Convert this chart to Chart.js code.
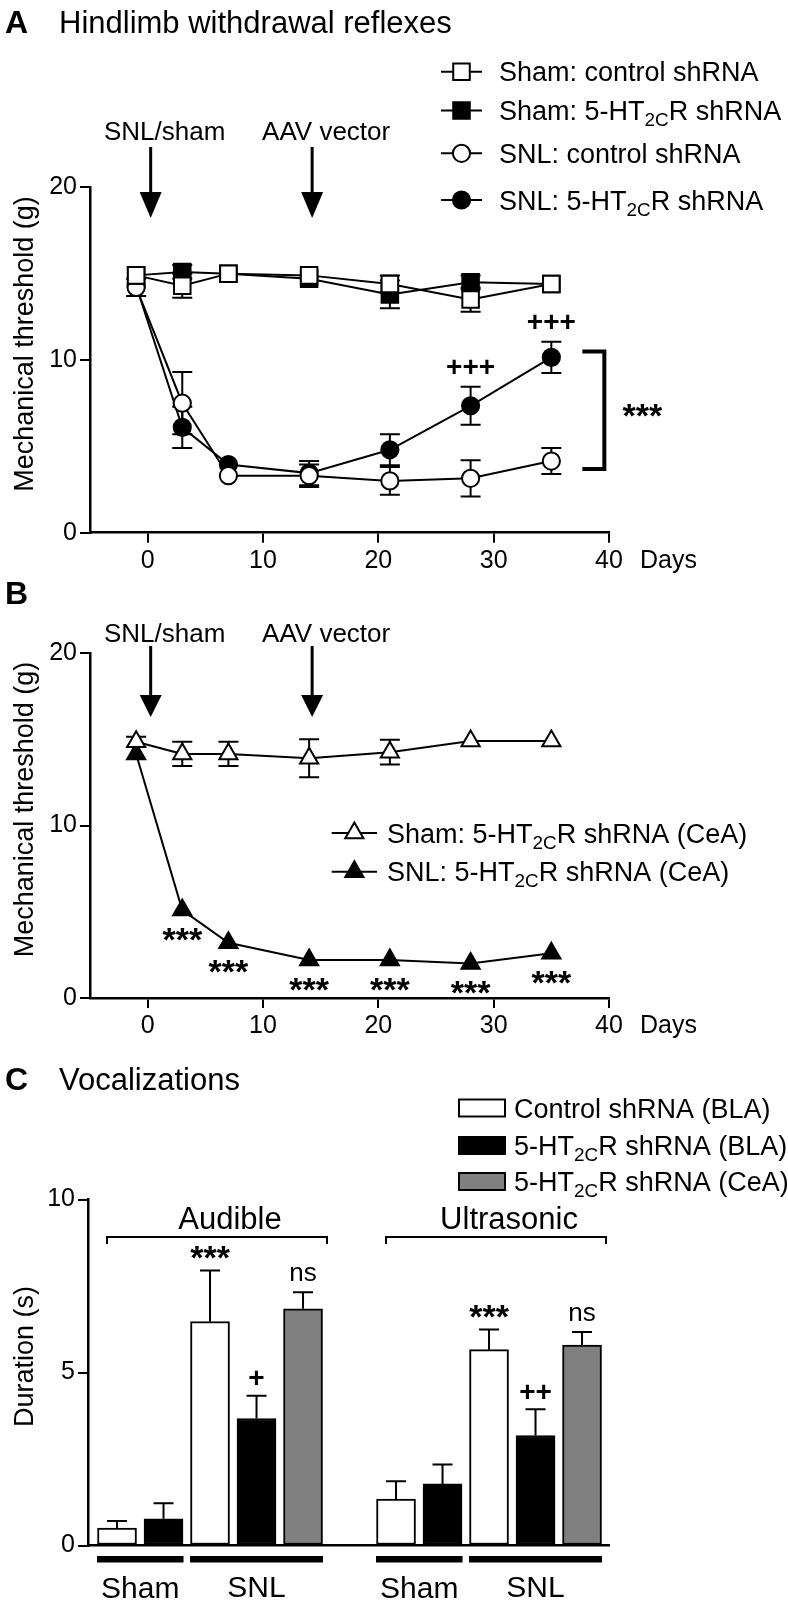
<!DOCTYPE html>
<html>
<head>
<meta charset="utf-8">
<script src="https://cdn.jsdelivr.net/npm/chart.js@4.4.1/dist/chart.umd.min.js"></script>
<style>
  body { margin: 0; background: #fff; }
  #wrap { position: relative; width: 788px; height: 1600px; background: #fff; }
  canvas { position: absolute; left: 0; }
</style>
</head>
<body>
<div id="wrap">
  <canvas id="cA" width="788" height="580" style="top:0px"></canvas>
  <canvas id="cB" width="788" height="460" style="top:580px"></canvas>
  <canvas id="cC" width="788" height="560" style="top:1040px"></canvas>
</div>
<script>
// ---- data ----
const days = [-1, 3, 7, 14, 21, 28, 35];
const dayTicks = [0, 10, 20, 30, 40];
const thresholdTicks = [0, 10, 20];
const eventDays = [0, 14];
const eventLabels = ['SNL/sham', 'AAV vector'];

// panel A (sem 0 = error bar hidden behind the symbol)
const seriesA = ['Sham: control shRNA', 'Sham: 5-HT_{2C}R shRNA', 'SNL: control shRNA', 'SNL: 5-HT_{2C}R shRNA'];
const shamCtrlA = [14.9, 14.3, 15.0, 14.9, 14.4, 13.5, 14.4];
const shamCtrlSemA = [0, 0.7, 0, 0, 0.5, 0.7, 0];
const sham5htA = [14.9, 15.1, 15.0, 14.7, 13.8, 14.5, 14.4];
const sham5htSemA = [0, 0.4, 0, 0, 0.8, 0.4, 0];
const snlCtrlA = [14.2, 7.5, 3.3, 3.3, 3.0, 3.15, 4.15];
const snlCtrlSemA = [0.5, 1.8, 0, 0.65, 0.8, 1.05, 0.75];
const snl5htA = [14.3, 6.1, 3.95, 3.45, 4.8, 7.35, 10.15];
const snl5htSemA = [0, 1.2, 0, 0.7, 0.9, 1.1, 0.9];
const snl5htMarksA = ['', '', '', '', '', '+++', '+++'];
const bracketMarkA = '***';

// panel B
const seriesB = ['Sham: 5-HT_{2C}R shRNA (CeA)', 'SNL: 5-HT_{2C}R shRNA (CeA)'];
const shamB = [14.85, 14.15, 14.15, 13.9, 14.25, 14.9, 14.9];
const shamSemB = [0.3, 0.7, 0.7, 1.1, 0.72, 0, 0];
const snlB = [14.15, 5.1, 3.2, 2.2, 2.2, 2.0, 2.6];
const snlSemB = [0, 0, 0, 0, 0, 0, 0];
const snlMarksB = ['', '***', '***', '***', '***', '***', '***'];

// panel C
const vocalTypes = ['Audible', 'Ultrasonic'];
const conditions = ['Sham', 'SNL'];
const treatments = ['Control shRNA (BLA)', '5-HT_{2C}R shRNA (BLA)', '5-HT_{2C}R shRNA (CeA)'];
const barCondition = [0, 0, 1, 1, 1];
const barTreatment = [0, 1, 0, 1, 2];
const audibleMean = [0.50, 0.77, 6.47, 3.67, 6.84];
const audibleSem = [0.21, 0.45, 1.48, 0.66, 0.48];
const audibleMarks = ['', '', '***', '+', 'ns'];
const ultrasonicMean = [1.34, 1.78, 5.66, 3.18, 5.79];
const ultrasonicSem = [0.52, 0.56, 0.58, 0.76, 0.38];
const ultrasonicMarks = ['', '', '***', '++', 'ns'];
const durationTicks = [0, 5, 10];

// ---- helpers ----
const FAMILY = '"Liberation Sans", Arial, Helvetica, sans-serif';
Chart.defaults.font.family = FAMILY;
Chart.defaults.color = '#000';

function setFont(ctx, size, bold){ ctx.font = (bold ? 'bold ' : '') + size + 'px ' + FAMILY; }

function parseRich(text){
  const parts = []; const re = /_\{([^}]*)\}/g; let last = 0, m;
  while ((m = re.exec(text))){
    if (m.index > last) parts.push({t:text.slice(last, m.index), sub:false});
    parts.push({t:m[1], sub:true});
    last = re.lastIndex;
  }
  if (last < text.length) parts.push({t:text.slice(last), sub:false});
  return parts;
}

// text with _{subscript}, y is baseline
function drawRich(ctx, text, x, y, size){
  const parts = parseRich(text);
  ctx.fillStyle = '#000'; ctx.textAlign = 'left'; ctx.textBaseline = 'alphabetic';
  let cx = x;
  for (const p of parts){
    setFont(ctx, p.sub ? size*0.7 : size);
    ctx.fillText(p.t, cx, p.sub ? y + size*0.22 : y);
    cx += ctx.measureText(p.t).width;
  }
}

function drawCentered(ctx, text, x, cy, size, bold){
  setFont(ctx, size, bold);
  const m = ctx.measureText(text);
  ctx.fillStyle = '#000'; ctx.textAlign = 'center'; ctx.textBaseline = 'alphabetic';
  ctx.fillText(text, x, cy + (m.actualBoundingBoxAscent - m.actualBoundingBoxDescent)/2);
}

function markSize(t){ return t.includes('*') ? [34, true] : t.includes('+') ? [28, true] : [26, false]; }

function drawMarker(ctx, style, r, x, y, filled){
  ctx.beginPath();
  if (style === 'circle') ctx.arc(x, y, r, 0, Math.PI*2);
  else if (style === 'rect'){ const s = Math.SQRT1_2*r; ctx.rect(x-s, y-s, 2*s, 2*s); }
  else {
    for (let k = 0; k < 3; k++){
      const a = k*2*Math.PI/3, px = x + Math.sin(a)*r, py = y - Math.cos(a)*r;
      k ? ctx.lineTo(px, py) : ctx.moveTo(px, py);
    }
    ctx.closePath();
  }
  ctx.fillStyle = filled ? '#000' : '#fff'; ctx.fill();
  ctx.lineWidth = 2; ctx.strokeStyle = '#000'; ctx.stroke();
}

function drawArrow(ctx, x, y0, yHead, yTip){
  ctx.strokeStyle = '#000'; ctx.lineWidth = 3;
  ctx.beginPath(); ctx.moveTo(x, y0); ctx.lineTo(x, yHead + 2); ctx.stroke();
  ctx.beginPath(); ctx.moveTo(x-11, yHead); ctx.lineTo(x+11, yHead); ctx.lineTo(x, yTip); ctx.closePath();
  ctx.fillStyle = '#000'; ctx.fill();
}

function errLine(ctx, x, yFrom, yTo, cap){
  ctx.strokeStyle = '#000'; ctx.lineWidth = 2;
  ctx.beginPath(); ctx.moveTo(x, yFrom); ctx.lineTo(x, yTo);
  ctx.moveTo(x - cap/2, yTo); ctx.lineTo(x + cap/2, yTo); ctx.stroke();
}

function yTitle(ctx, chart, text){
  const a = chart.chartArea;
  ctx.save();
  ctx.translate(26, (a.top + a.bottom)/2 - 16);
  ctx.rotate(-Math.PI/2);
  setFont(ctx, 27); ctx.fillStyle = '#000'; ctx.textAlign = 'center'; ctx.textBaseline = 'middle';
  ctx.fillText(text, 0, 0);
  ctx.restore();
}

function panelTitle(ctx, letter, text, baseline){
  ctx.fillStyle = '#000'; ctx.textAlign = 'left'; ctx.textBaseline = 'alphabetic';
  setFont(ctx, 32, true); ctx.fillText(letter, 5, baseline);
  if (text){ setFont(ctx, 31); ctx.fillText(text, 59, baseline); }
}

function axisStyle(extra){
  return Object.assign({
    grid: { display:true, drawOnChartArea:false, drawTicks:true, tickLength:10, color:'#000', lineWidth:2 },
    border: { display:true, color:'#000', width:2.5 },
    ticks: { color:'#000', font:{ family:FAMILY, size:25 }, padding:3 }
  }, extra);
}

function lineSet(label, values, sem, style, filled, r, marks){
  return {
    label, sem, marks, markerStyle: style, filled, markerR: r,
    data: days.map((d, i) => ({x:d, y:values[i]})),
    borderColor:'#000', borderWidth:2, tension:0, fill:false,
    pointStyle:style, pointRadius:r, pointHoverRadius:r,
    pointBackgroundColor: filled ? '#000' : '#fff',
    pointBorderColor:'#000', pointBorderWidth:2
  };
}

const semPlugin = {
  id:'semBars',
  beforeDatasetsDraw(chart){
    const {ctx, scales:{x, y}} = chart;
    chart.data.datasets.forEach(ds => {
      ds.data.forEach((p, i) => {
        if (!(ds.sem[i] > 0)) return;
        const px = x.getPixelForValue(p.x);
        errLine(ctx, px, y.getPixelForValue(p.y), y.getPixelForValue(p.y + ds.sem[i]), 20);
        errLine(ctx, px, y.getPixelForValue(p.y), y.getPixelForValue(p.y - ds.sem[i]), 20);
      });
    });
  }
};

function timeCourse(id, datasets, top, xh, decor){
  return new Chart(document.getElementById(id), {
    type:'line',
    data:{ datasets },
    options:{
      responsive:false, animation:false, events:[],
      layout:{ padding:{ top, right:179, left:0, bottom:0 } },
      plugins:{ legend:{display:false}, tooltip:{enabled:false} },
      scales:{
        x: axisStyle({ type:'linear', min:-5, max:40,
          afterBuildTicks: s => { s.ticks = dayTicks.map(v => ({value:v})); },
          afterFit: s => { s.height = xh; } }),
        y: axisStyle({ type:'linear', min:0, max:20,
          afterBuildTicks: s => { s.ticks = thresholdTicks.map(v => ({value:v})); },
          afterFit: s => { s.width = 90; } })
      }
    },
    plugins:[semPlugin, { id:'decor', afterDraw: decor }]
  });
}

function commonDecor(chart, arrowY){
  const {ctx, scales:{x, y}} = chart;
  const a = chart.chartArea;
  yTitle(ctx, chart, 'Mechanical threshold (g)');
  setFont(ctx, 25); ctx.fillStyle = '#000'; ctx.textAlign = 'left'; ctx.textBaseline = 'middle';
  ctx.fillText('Days', 640, a.bottom + 28);
  eventDays.forEach((d, i) => {
    const px = x.getPixelForValue(d) + 3;
    drawArrow(ctx, px, arrowY.shaft, arrowY.head, arrowY.tip);
    setFont(ctx, 26); ctx.textAlign = 'center'; ctx.textBaseline = 'alphabetic';
    ctx.fillText(eventLabels[i], px + 14, arrowY.label);
  });
}

function drawLegendRows(ctx, datasets, rows, x0, x1, tx){
  datasets.forEach((ds, i) => {
    const cy = rows[i];
    ctx.strokeStyle = '#000'; ctx.lineWidth = 2;
    ctx.beginPath(); ctx.moveTo(x0, cy); ctx.lineTo(x1, cy); ctx.stroke();
    drawMarker(ctx, ds.markerStyle, ds.markerR, (x0 + x1)/2, cy, ds.filled);
    drawRich(ctx, ds.label, tx, cy + 9.7, 27);
  });
}

// ---- panel A ----
const dsA = [
  lineSet(seriesA[0], shamCtrlA, shamCtrlSemA, 'rect', false, 11.7),
  lineSet(seriesA[1], sham5htA, sham5htSemA, 'rect', true, 11.7),
  lineSet(seriesA[2], snlCtrlA, snlCtrlSemA, 'circle', false, 8.6),
  lineSet(seriesA[3], snl5htA, snl5htSemA, 'circle', true, 8.6, snl5htMarksA)
];
timeCourse('cA', dsA, 187.3, 47.3, chart => {
  const {ctx, scales:{x, y}} = chart;
  panelTitle(ctx, 'A', 'Hindlimb withdrawal reflexes', 33);
  commonDecor(chart, {shaft:147, head:192, tip:218, label:140});
  drawLegendRows(ctx, dsA, [71.7, 110.5, 153.3, 200], 441, 482, 499);
  const ds = dsA[3];
  ds.data.forEach((p, i) => {
    if (!ds.marks[i]) return;
    const [sz, b] = markSize(ds.marks[i]);
    drawCentered(ctx, ds.marks[i], x.getPixelForValue(p.x), y.getPixelForValue(p.y + ds.sem[i]) - 20, sz, b);
  });
  // bracket between the two SNL curves at the last day
  const last = days.length - 1;
  const bx = x.getPixelForValue(days[last]);
  const yT = y.getPixelForValue(Math.max(snl5htA[last], snlCtrlA[last])) - 6;
  const yB = y.getPixelForValue(Math.min(snl5htA[last], snlCtrlA[last])) + 8;
  ctx.strokeStyle = '#000'; ctx.lineWidth = 4;
  ctx.beginPath(); ctx.moveTo(bx + 31, yT); ctx.lineTo(bx + 53, yT); ctx.lineTo(bx + 53, yB); ctx.lineTo(bx + 31, yB); ctx.stroke();
  const [sz, b] = markSize(bracketMarkA);
  drawCentered(ctx, bracketMarkA, bx + 91, (yT + yB)/2, sz, b);
});

// ---- panel B ----
const dsB = [
  lineSet(seriesB[0], shamB, shamSemB, 'triangle', false, 10.5),
  lineSet(seriesB[1], snlB, snlSemB, 'triangle', true, 10.5, snlMarksB)
];
timeCourse('cB', dsB, 73, 42, chart => {
  const {ctx, scales:{x, y}} = chart;
  panelTitle(ctx, 'B', '', 24);
  commonDecor(chart, {shaft:66, head:115, tip:137, label:62});
  drawLegendRows(ctx, dsB, [253, 291.7], 331.7, 377, 387);
  const ds = dsB[1];
  ds.data.forEach((p, i) => {
    if (!ds.marks[i]) return;
    const [sz, b] = markSize(ds.marks[i]);
    drawCentered(ctx, ds.marks[i], x.getPixelForValue(p.x), y.getPixelForValue(p.y) + 24, sz, b);
  });
});

// ---- panel C ----
const typeMeans = [audibleMean, ultrasonicMean];
const typeSems = [audibleSem, ultrasonicSem];
const typeMarks = [audibleMarks, ultrasonicMarks];
const slot = (t, j) => t*6 + j;
const treatFill = ['#ffffff', '#000000', '#808080'];
const dsC = treatments.map((label, k) => {
  const data = [], sem = [], marks = [];
  vocalTypes.forEach((_, t) => barTreatment.forEach((tr, j) => {
    if (tr !== k) return;
    data.push({x:slot(t, j), y:typeMeans[t][j]});
    sem.push(typeSems[t][j]); marks.push(typeMarks[t][j]);
  }));
  return { label, data, sem, marks, backgroundColor:treatFill[k], borderColor:'#000', borderWidth:2,
    borderSkipped:false, barThickness:39, grouped:false };
});

new Chart(document.getElementById('cC'), {
  type:'bar',
  data:{ datasets: dsC },
  options:{
    responsive:false, animation:false, events:[],
    layout:{ padding:{ top:159.5, right:179, left:0, bottom:0 } },
    plugins:{ legend:{display:false}, tooltip:{enabled:false} },
    scales:{
      x: { type:'linear', offset:false, min:-0.624, max:10.58, grid:{display:false}, ticks:{display:false},
           border:{display:true, color:'#000', width:2.5}, afterFit: s => { s.height = 54.5; } },
      y: axisStyle({ type:'linear', min:0, max:10,
          afterBuildTicks: s => { s.ticks = durationTicks.map(v => ({value:v})); },
          afterFit: s => { s.width = 88; } })
    }
  },
  plugins:[{
    id:'decorC',
    afterDatasetsDraw(chart){
      const {ctx, scales:{x, y}} = chart;
      chart.data.datasets.forEach(ds => ds.data.forEach((p, i) => {
        const px = x.getPixelForValue(p.x);
        const top = y.getPixelForValue(p.y + ds.sem[i]);
        errLine(ctx, px, y.getPixelForValue(p.y), top, 20);
        if (ds.marks[i]){
          const [sz, b] = markSize(ds.marks[i]);
          drawCentered(ctx, ds.marks[i], px, top - 18, sz, b);
        }
      }));
    },
    afterDraw(chart){
      const {ctx, scales:{x, y}} = chart;
      panelTitle(ctx, 'C', 'Vocalizations', 50);
      yTitle(ctx, chart, 'Duration (s)');
      // legend
      [68, 105.5, 141.5].forEach((cy, k) => {
        ctx.fillStyle = treatFill[k]; ctx.fillRect(459, cy - 8.5, 46, 17);
        ctx.strokeStyle = '#000'; ctx.lineWidth = 2; ctx.strokeRect(459, cy - 8.5, 46, 17);
        drawRich(ctx, treatments[k], 514, cy + 9.7, 27);
      });
      vocalTypes.forEach((name, t) => {
        const c0 = x.getPixelForValue(slot(t, 0)), c4 = x.getPixelForValue(slot(t, barCondition.length - 1));
        // bracket
        const bx0 = c0 - 10, bx1 = c4 + 24;
        ctx.strokeStyle = '#000'; ctx.lineWidth = 2;
        ctx.beginPath(); ctx.moveTo(bx0, 204); ctx.lineTo(bx0, 197); ctx.lineTo(bx1, 197); ctx.lineTo(bx1, 204); ctx.stroke();
        drawCentered(ctx, name, (bx0 + bx1)/2 + 13, 177.5, 31);
        // condition bars and labels
        conditions.forEach((cond, c) => {
          const idx = barCondition.map((v, j) => v === c ? j : -1).filter(j => j >= 0);
          const l = x.getPixelForValue(slot(t, idx[0])) - 20;
          const r = x.getPixelForValue(slot(t, idx[idx.length - 1])) + 20;
          ctx.fillStyle = '#000'; ctx.fillRect(l, 516, r - l, 6.5);
          drawCentered(ctx, cond, (l + r)/2, 546.7, 30);
        });
      });
    }
  }]
});
</script>
</body>
</html>
